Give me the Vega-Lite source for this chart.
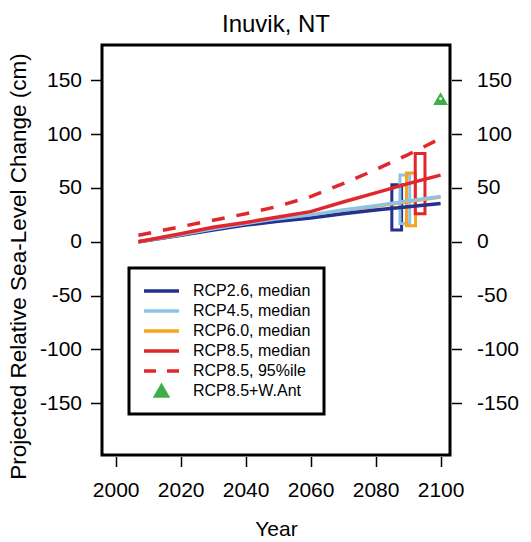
{
  "$schema": "https://vega.github.io/schema/vega-lite/v6.json",
  "width": 348,
  "height": 410,
  "autosize": {"type": "none"},
  "padding": {"left": 102, "top": 45, "right": 81, "bottom": 87},
  "background": "white",
  "config": {"view": {"stroke": "black", "strokeWidth": 3}, "font": "Liberation Sans"},
  "title": {"text": "Inuvik, NT", "fontSize": 24, "font": "Liberation Sans", "fontWeight": "normal", "color": "black", "anchor": "middle", "baseline": "alphabetic", "offset": 14, "dy": 25},
  "datasets": {
    "lines": [
      {"series": "RCP6.0, median", "year": 2007, "value": 0},
      {"series": "RCP6.0, median", "year": 2020, "value": 6},
      {"series": "RCP6.0, median", "year": 2030, "value": 11.5},
      {"series": "RCP6.0, median", "year": 2040, "value": 16.5},
      {"series": "RCP6.0, median", "year": 2050, "value": 21},
      {"series": "RCP6.0, median", "year": 2060, "value": 24.5},
      {"series": "RCP6.0, median", "year": 2070, "value": 29},
      {"series": "RCP6.0, median", "year": 2080, "value": 33},
      {"series": "RCP6.0, median", "year": 2090, "value": 37.5},
      {"series": "RCP6.0, median", "year": 2100, "value": 41.5},
      {"series": "RCP2.6, median", "year": 2007, "value": 0},
      {"series": "RCP2.6, median", "year": 2020, "value": 6},
      {"series": "RCP2.6, median", "year": 2030, "value": 11},
      {"series": "RCP2.6, median", "year": 2040, "value": 15.5},
      {"series": "RCP2.6, median", "year": 2050, "value": 19},
      {"series": "RCP2.6, median", "year": 2060, "value": 22},
      {"series": "RCP2.6, median", "year": 2070, "value": 26},
      {"series": "RCP2.6, median", "year": 2080, "value": 29.5},
      {"series": "RCP2.6, median", "year": 2090, "value": 32.5},
      {"series": "RCP2.6, median", "year": 2100, "value": 35.5},
      {"series": "RCP4.5, median", "year": 2007, "value": 0},
      {"series": "RCP4.5, median", "year": 2020, "value": 6.5},
      {"series": "RCP4.5, median", "year": 2030, "value": 12},
      {"series": "RCP4.5, median", "year": 2040, "value": 17},
      {"series": "RCP4.5, median", "year": 2050, "value": 21.5},
      {"series": "RCP4.5, median", "year": 2060, "value": 25},
      {"series": "RCP4.5, median", "year": 2070, "value": 29.5},
      {"series": "RCP4.5, median", "year": 2080, "value": 33.5},
      {"series": "RCP4.5, median", "year": 2090, "value": 38},
      {"series": "RCP4.5, median", "year": 2100, "value": 42},
      {"series": "RCP8.5, median", "year": 2007, "value": 0},
      {"series": "RCP8.5, median", "year": 2020, "value": 7.5},
      {"series": "RCP8.5, median", "year": 2030, "value": 13.5},
      {"series": "RCP8.5, median", "year": 2040, "value": 18},
      {"series": "RCP8.5, median", "year": 2050, "value": 23},
      {"series": "RCP8.5, median", "year": 2060, "value": 28},
      {"series": "RCP8.5, median", "year": 2070, "value": 37},
      {"series": "RCP8.5, median", "year": 2080, "value": 45.5},
      {"series": "RCP8.5, median", "year": 2090, "value": 54},
      {"series": "RCP8.5, median", "year": 2100, "value": 62},
      {"series": "RCP8.5, 95%ile", "year": 2007, "value": 6},
      {"series": "RCP8.5, 95%ile", "year": 2020, "value": 14},
      {"series": "RCP8.5, 95%ile", "year": 2030, "value": 20},
      {"series": "RCP8.5, 95%ile", "year": 2040, "value": 26},
      {"series": "RCP8.5, 95%ile", "year": 2050, "value": 33},
      {"series": "RCP8.5, 95%ile", "year": 2060, "value": 42},
      {"series": "RCP8.5, 95%ile", "year": 2070, "value": 54},
      {"series": "RCP8.5, 95%ile", "year": 2080, "value": 67},
      {"series": "RCP8.5, 95%ile", "year": 2090, "value": 81},
      {"series": "RCP8.5, 95%ile", "year": 2100, "value": 96}
    ],
    "boxes": [
      {"series": "RCP2.6, median", "x0": 2085, "x1": 2088, "lo": 11, "hi": 53},
      {"series": "RCP4.5, median", "x0": 2087.5, "x1": 2090.5, "lo": 17, "hi": 62},
      {"series": "RCP6.0, median", "x0": 2089.5, "x1": 2092.3, "lo": 15, "hi": 64},
      {"series": "RCP8.5, median", "x0": 2092.2, "x1": 2095.2, "lo": 26, "hi": 82}
    ],
    "ant": [
      {"series": "RCP8.5+W.Ant", "year": 2100, "value": 133}
    ]
  },
  "layer": [
    {
      "data": {"name": "boxes"},
      "mark": {"type": "rect", "filled": false, "strokeWidth": 3},
      "encoding": {
        "x": {"field": "x0", "type": "quantitative",
          "scale": {"domain": [1995.8, 2102.9], "nice": false, "zero": false},
          "axis": {"values": [2000, 2020, 2040, 2060, 2080, 2100], "format": "d", "domain": false, "grid": false, "tickSize": 10, "tickWidth": 1.5, "tickColor": "black", "offset": 1.5, "labelFontSize": 21, "labelFont": "Liberation Sans", "labelColor": "black", "labelPadding": 13, "title": "Year", "titleFontSize": 21, "titleFont": "Liberation Sans", "titleFontWeight": "normal", "titleColor": "black", "titlePadding": 18}},
        "x2": {"field": "x1"},
        "y": {"field": "lo", "type": "quantitative",
          "scale": {"domain": [-198.2, 182.9], "nice": false, "zero": false},
          "axis": {"orient": "left", "values": [-150, -100, -50, 0, 50, 100, 150], "labelExpr": "toString(datum.value)", "domain": false, "grid": false, "tickSize": 10, "tickWidth": 1.5, "tickColor": "black", "offset": 1.5, "labelFontSize": 21, "labelFont": "Liberation Sans", "labelColor": "black", "labelPadding": 9, "title": "Projected Relative Sea-Level Change (cm)", "titleFontSize": 22.5, "titleFont": "Liberation Sans", "titleFontWeight": "normal", "titleColor": "black", "titlePadding": 9, "titleY": 221}},
        "y2": {"field": "hi"},
        "color": {"field": "series", "type": "nominal",
          "scale": {"domain": ["RCP2.6, median", "RCP4.5, median", "RCP6.0, median", "RCP8.5, median", "RCP8.5, 95%ile", "RCP8.5+W.Ant"], "range": ["#23318F", "#8EC3E6", "#F6A31E", "#E1272D", "#E1272D", "#3DAE4A"]},
          "legend": {
            "title": null, "orient": "none", "legendX": 27, "legendY": 223,
            "symbolType": "stroke", "symbolSize": 1225, "symbolStrokeWidth": 3.5,
            "labelFontSize": 16, "labelFont": "Liberation Sans", "labelOffset": 12, "labelColor": "black", "labelLimit": 300,
            "clipHeight": 20, "rowPadding": 0, "padding": 13,
            "strokeColor": "black", "fillColor": "white",
            "encode": {
              "legend": {"update": {"strokeWidth": {"value": 3}}},
              "symbols": {"update": {
                "shape": {"signal": "datum.value === 'RCP8.5+W.Ant' ? 'triangle-up' : 'stroke'"},
                "size": {"signal": "datum.value === 'RCP8.5+W.Ant' ? 130 : 1225"},
                "strokeDash": {"signal": "datum.value === 'RCP8.5, 95%ile' ? [12, 11] : [1, 0]"},
                "stroke": {"signal": "scale('color', datum.value)"},
                "fill": {"signal": "datum.value === 'RCP8.5+W.Ant' ? scale('color', datum.value) : 'transparent'"},
                "strokeWidth": {"value": 3.5},
                "opacity": {"value": 1}
              }}
            }
          }}
      }
    },
    {
      "mark": {"type": "rule", "strokeWidth": 3, "color": "black"},
      "encoding": {"y": {"datum": 0, "type": "quantitative", "axis": null}}
    },
    {
      "data": {"name": "lines"},
      "transform": [{"filter": "datum.series === 'RCP6.0, median'"}],
      "mark": {"type": "line", "strokeWidth": 3.5},
      "encoding": {
        "x": {"field": "year", "type": "quantitative"},
        "y": {"field": "value", "type": "quantitative", "axis": null},
        "color": {"field": "series", "type": "nominal"}
      }
    },
    {
      "data": {"name": "lines"},
      "transform": [{"filter": "datum.series === 'RCP2.6, median'"}],
      "mark": {"type": "line", "strokeWidth": 3.5},
      "encoding": {
        "x": {"field": "year", "type": "quantitative"},
        "y": {"field": "value", "type": "quantitative", "axis": null},
        "color": {"field": "series", "type": "nominal"}
      }
    },
    {
      "data": {"name": "lines"},
      "transform": [{"filter": "datum.series === 'RCP4.5, median'"}],
      "mark": {"type": "line", "strokeWidth": 3.5},
      "encoding": {
        "x": {"field": "year", "type": "quantitative"},
        "y": {"field": "value", "type": "quantitative", "axis": null},
        "color": {"field": "series", "type": "nominal"}
      }
    },
    {
      "data": {"name": "lines"},
      "transform": [{"filter": "datum.series === 'RCP8.5, median'"}],
      "mark": {"type": "line", "strokeWidth": 3.5},
      "encoding": {
        "x": {"field": "year", "type": "quantitative"},
        "y": {"field": "value", "type": "quantitative", "axis": null},
        "color": {"field": "series", "type": "nominal"}
      }
    },
    {
      "data": {"name": "lines"},
      "transform": [{"filter": "datum.series === 'RCP8.5, 95%ile'"}],
      "mark": {"type": "line", "strokeWidth": 3.5, "strokeDash": [13, 12]},
      "encoding": {
        "x": {"field": "year", "type": "quantitative"},
        "y": {"field": "value", "type": "quantitative", "axis": null},
        "color": {"field": "series", "type": "nominal"}
      }
    },
    {
      "data": {"name": "ant"},
      "mark": {"type": "point", "shape": "triangle-up", "size": 220, "filled": true, "opacity": 1, "strokeWidth": 1.5},
      "encoding": {
        "x": {"field": "year", "type": "quantitative"},
        "y": {"field": "value", "type": "quantitative",
          "axis": {"orient": "right", "values": [-150, -100, -50, 0, 50, 100, 150], "labelExpr": "toString(datum.value)", "domain": false, "grid": false, "tickSize": 10, "tickWidth": 1.5, "tickColor": "black", "offset": 1.5, "labelFontSize": 21, "labelFont": "Liberation Sans", "labelColor": "black", "labelPadding": 15, "title": null}},
        "color": {"field": "series", "type": "nominal"}
      }
    },
    {
      "data": {"name": "ant"},
      "mark": {"type": "point", "shape": "circle", "size": 8, "filled": true, "color": "white", "opacity": 1},
      "encoding": {
        "x": {"field": "year", "type": "quantitative"},
        "y": {"field": "value", "type": "quantitative", "axis": null}
      }
    }
  ],
  "resolve": {"axis": {"y": "independent"}}
}
